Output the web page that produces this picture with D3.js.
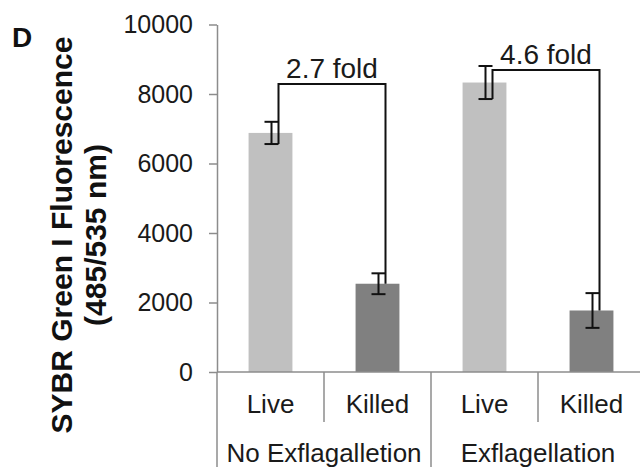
<!DOCTYPE html>
<html>
<head>
<meta charset="utf-8">
<script src="https://cdn.jsdelivr.net/npm/d3@7"></script>
<style>
  body { margin: 0; background: #fff; }
  svg { font-family: "Liberation Sans", Arial, sans-serif; }
</style>
</head>
<body>
<div id="container"></div>
<script>
// data
var groups = ["No Exflagalletion", "Exflagellation"];
var conditions = ["Live", "Killed"];
var values = [6880, 2540, 8330, 1770];
var errors = [320, 300, 475, 500];
var foldLabels = ["2.7 fold", "4.6 fold"];
var bracketTops = [8290, 8690];
var yTicks = [0, 2000, 4000, 6000, 8000, 10000];

var width = 640, height = 467;
var mLeft = 217, mRight = 645, mTop = 24.5, base = 372;

var cats = [];
groups.forEach(function (g, gi) {
    conditions.forEach(function (c, ci) { cats.push({ key: g + "|" + c, group: g, cond: c, gi: gi, ci: ci }); });
});
var data = cats.map(function (d, i) { return Object.assign({}, d, { value: values[i], err: errors[i] }); });

var svg = d3.select("#container")
    .append("svg")
    .attr("width", width)
    .attr("height", height);

var x = d3.scaleBand()
    .domain(cats.map(function (d) { return d.key; }))
    .range([mLeft, mRight]);

var y = d3.scaleLinear()
    .domain([0, 10000])
    .range([base, mTop]);

var barW = x.bandwidth() * 0.41;
var fill = { Live: "#c0c0c0", Killed: "#808080" };

// bars
svg.selectAll("rect.bar")
    .data(data)
    .enter()
    .append("rect")
    .attr("class", "bar")
    .attr("x", function (d) { return x(d.key) + (x.bandwidth() - barW) / 2; })
    .attr("width", barW)
    .attr("y", function (d) { return y(d.value); })
    .attr("height", function (d) { return base - y(d.value); })
    .attr("fill", function (d) { return fill[d.cond]; });

// y axis
var yAxis = svg.append("g")
    .attr("transform", "translate(" + mLeft + ",0)")
    .call(d3.axisLeft(y).tickValues(yTicks).tickFormat(d3.format("d"))
        .tickSize(8).tickSizeOuter(0).tickPadding(16));
yAxis.select(".domain").attr("stroke", "#8c8c8c").attr("stroke-width", 1.5);
yAxis.selectAll(".tick line").attr("stroke", "#8c8c8c").attr("stroke-width", 1.5);
yAxis.selectAll(".tick text")
    .style("font-size", "25px")
    .attr("fill", "#1a1a1a")
    .style("font-family", "'Liberation Sans', Arial, sans-serif");

// x axis baseline and category separators
svg.append("line")
    .attr("x1", mLeft).attr("x2", mRight)
    .attr("y1", base).attr("y2", base)
    .attr("stroke", "#8c8c8c").attr("stroke-width", 1.5);

cats.forEach(function (d) {
    var long = d.ci === 0;
    svg.append("line")
        .attr("x1", x(d.key)).attr("x2", x(d.key))
        .attr("y1", base).attr("y2", long ? height : 422)
        .attr("stroke", "#8c8c8c").attr("stroke-width", 1.5);
});

// category labels
svg.selectAll("text.cond")
    .data(cats)
    .enter()
    .append("text")
    .attr("x", function (d) { return x(d.key) + x.bandwidth() / 2; })
    .attr("y", 413)
    .attr("text-anchor", "middle")
    .style("font-size", "26px")
    .attr("fill", "#1a1a1a")
    .text(function (d) { return d.cond; });

svg.selectAll("text.group")
    .data(groups)
    .enter()
    .append("text")
    .attr("x", function (g) { return x(g + "|Live") + x.bandwidth(); })
    .attr("y", 462)
    .attr("text-anchor", "middle")
    .style("font-size", "26px")
    .attr("fill", "#1a1a1a")
    .text(function (g) { return g; });

// error bars
var cap = 7;
data.forEach(function (d) {
    var cx = x(d.key) + x.bandwidth() / 2 + 1;
    var g = svg.append("g").attr("stroke", "#111").attr("stroke-width", 2);
    g.append("line").attr("x1", cx).attr("x2", cx).attr("y1", y(d.value + d.err)).attr("y2", y(d.value - d.err));
    g.append("line").attr("x1", cx - cap).attr("x2", cx + cap).attr("y1", y(d.value + d.err)).attr("y2", y(d.value + d.err));
    g.append("line").attr("x1", cx - cap).attr("x2", cx + cap).attr("y1", y(d.value - d.err)).attr("y2", y(d.value - d.err));
});

// fold brackets
groups.forEach(function (g, gi) {
    var live = data[gi * 2], killed = data[gi * 2 + 1];
    var x1 = x(live.key) + x.bandwidth() / 2 + 8;
    var x2 = x(killed.key) + x.bandwidth() / 2 + 8;
    var yt = y(bracketTops[gi]);
    svg.append("path")
        .attr("d", "M" + x1 + "," + y(live.value - live.err) + "V" + yt + "H" + x2 + "V" + y(killed.value))
        .attr("fill", "none")
        .attr("stroke", "#111")
        .attr("stroke-width", 2);
    svg.append("text")
        .attr("x", (x1 + x2) / 2)
        .attr("y", yt - 6)
        .attr("text-anchor", "middle")
        .style("font-size", "28px")
        .attr("fill", "#1a1a1a")
        .text(foldLabels[gi]);
});

// y axis title
var title = svg.append("text")
    .attr("transform", "translate(72,235) rotate(-90)")
    .attr("text-anchor", "middle")
    .style("font-size", "30px")
    .style("font-weight", "bold")
    .attr("fill", "#111");
title.append("tspan").attr("x", 0).attr("y", 0).text("SYBR Green I Fluorescence");
title.append("tspan").attr("x", 0).attr("y", 34).text("(485/535 nm)");

// panel letter
svg.append("text")
    .attr("x", 12)
    .attr("y", 47)
    .style("font-size", "28px")
    .style("font-weight", "bold")
    .attr("fill", "#111")
    .text("D");
</script>
</body>
</html>
